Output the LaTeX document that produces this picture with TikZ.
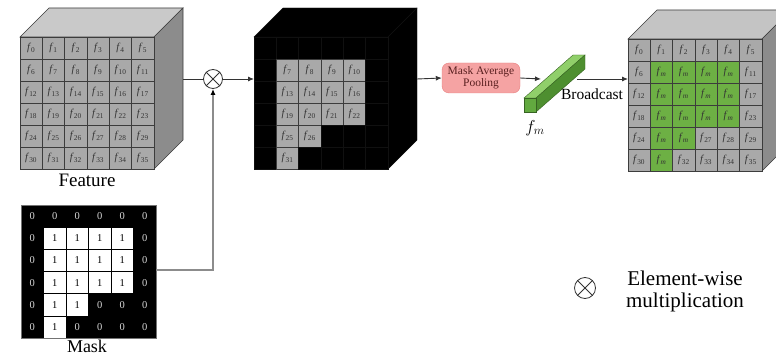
\documentclass[tikz,border=0pt]{standalone}
\usepackage{fontspec}
\setmainfont{Liberation Serif}
\newfontfamily\tms{Liberation Serif}
\usetikzlibrary{arrows.meta}
\definecolor{topg}{HTML}{C9C9C9}
\definecolor{sideg}{HTML}{8C8C8C}
\definecolor{cellg}{HTML}{A9A9A9}
\definecolor{edgeg}{HTML}{3C3C3C}
\definecolor{cellgreen}{HTML}{6DB044}
\definecolor{bartop}{HTML}{90CF6A}
\definecolor{barside}{HTML}{4E8F30}
\definecolor{barfront}{HTML}{62A93F}
\definecolor{poolfill}{HTML}{F5A3A3}
\definecolor{pooldraw}{HTML}{E88080}
\definecolor{pooltext}{HTML}{5A2020}
\definecolor{blkgrid}{HTML}{101010}
\newcommand\fl[1]{\textit{f}\textsubscript{#1}}
\tikzset{
  fcell/.style={draw=edgeg, line width=0.8pt, fill=cellg, minimum width=22.33pt,
    minimum height=22pt, inner sep=0pt, font=\tms\fontsize{10.5}{10.5}\selectfont, text=black!80},
  gcell/.style={fcell, fill=cellgreen},
  bcell/.style={draw=blkgrid, line width=0.4pt, fill=black, minimum width=22.33pt,
    minimum height=22pt, inner sep=0pt},
  mzero/.style={fill=black, draw=black, text=white!85!black, minimum width=22.5pt,
    minimum height=22.2pt, inner sep=0pt, font=\tms\fontsize{10.5}{10.5}\selectfont},
  mone/.style={mzero, fill=white, text=black},
  face/.style={draw=edgeg, line width=0.6pt},
  ln/.style={draw=black!80, line width=0.9pt},
  arr/.style={ln, -{Latex[length=6pt,width=5pt]}},
  lbl/.style={font=\tms\fontsize{19}{22}\selectfont, inner sep=0pt},
}
\begin{document}
\begin{tikzpicture}[x=1pt,y=-1pt]
\useasboundingbox (0,0) rectangle (776,358);
\begin{scope}
\clip (0,0) rectangle (776,358);
% ---------- Feature cube ----------
\filldraw[face, fill=topg] (20,37) -- (49,8) -- (183,8) -- (154,37) -- cycle;
\filldraw[face, fill=sideg] (154,37) -- (183,8) -- (183,140) -- (154,169) -- cycle;
\foreach \r in {0,...,5}{
  \foreach \c in {0,...,5}{
    \pgfmathtruncatemacro\n{6*\r+\c}
    \node[fcell] (fa-\r-\c) at ({20+22.33*\c+11.17},{37+22*\r+11}) {\fl{\n}};
  }
}
\draw[face] (20,37) rectangle (154,169);
\node[lbl] (featlbl) at (87,180) {Feature};

% ---------- Masked cube ----------
\filldraw[draw=blkgrid, fill=black] (254,37) -- (283,8) -- (417,8) -- (388,37) -- cycle;
\filldraw[draw=blkgrid, fill=black] (388,37) -- (417,8) -- (417,140) -- (388,169) -- cycle;
\foreach \r in {0,...,5}{
  \foreach \c in {0,...,5}{
    \pgfmathtruncatemacro\n{6*\r+\c}
    \pgfmathtruncatemacro\m{(\r>=1)*(\r<=3)*(\c>=1)*(\c<=4)+(\r==4)*(\c>=1)*(\c<=2)+(\r==5)*(\c==1)}
    \ifnum\m=1
      \node[fcell] (mc-\r-\c) at ({254+22.33*\c+11.17},{37+22*\r+11}) {\fl{\n}};
    \else
      \node[bcell] (mc-\r-\c) at ({254+22.33*\c+11.17},{37+22*\r+11}) {};
    \fi
  }
}

% ---------- Output cube ----------
\filldraw[face, fill=topg!110!white] (628,39) -- (657,10) -- (791,10) -- (762,39) -- cycle;
\filldraw[face, fill=sideg] (762,39) -- (791,10) -- (791,142) -- (762,171) -- cycle;
\foreach \r in {0,...,5}{
  \foreach \c in {0,...,5}{
    \pgfmathtruncatemacro\n{6*\r+\c}
    \pgfmathtruncatemacro\m{(\r>=1)*(\r<=3)*(\c>=1)*(\c<=4)+(\r==4)*(\c>=1)*(\c<=2)+(\r==5)*(\c==1)}
    \ifnum\m=1
      \node[gcell] (oc-\r-\c) at ({628+22.33*\c+11.17},{39+22*\r+11}) {\textit{f}\textsubscript{\textit{m}}};
    \else
      \node[fcell] (oc-\r-\c) at ({628+22.33*\c+11.17},{39+22*\r+11}) {\fl{\n}};
    \fi
  }
}
\draw[face] (628,39) rectangle (762,171);
\end{scope}

% ---------- Mask ----------
\fill[black] (21,205) rectangle (156,338);
\foreach \r in {0,...,5}{
  \foreach \c in {0,...,5}{
    \pgfmathtruncatemacro\m{(\r>=1)*(\r<=3)*(\c>=1)*(\c<=4)+(\r==4)*(\c>=1)*(\c<=2)+(\r==5)*(\c==1)}
    \ifnum\m=1
      \node[mone] (mk-\r-\c) at ({21+22.5*\c+11.25},{205+22.17*\r+11.08}) {1};
    \else
      \node[mzero] (mk-\r-\c) at ({21+22.5*\c+11.25},{205+22.17*\r+11.08}) {0};
    \fi
  }
}
\draw[black!55, line width=0.7pt] (21,205) rectangle (156,338);
\node[lbl, font=\tms\fontsize{18}{20}\selectfont] (masklbl) at (87,346.5) {Mask};

% ---------- Operator ----------
\node[circle, draw=black!80, line width=0.8pt, minimum size=19pt, inner sep=0pt] (ot) at (213,79) {};
\draw[black!80, line width=0.8pt] (ot.45) -- (ot.225) (ot.135) -- (ot.315);

% ---------- Pooling ----------
\node[draw=pooldraw, fill=poolfill, rounded corners=7pt, minimum width=78pt, minimum height=30pt,
  inner sep=1pt, align=center, text=pooltext, font=\tms\fontsize{11.5}{12}\selectfont] (pool) at (481,78)
  {Mask Average\\Pooling};

% ---------- Green bar ----------
\filldraw[draw=barside!70!black, line width=0.4pt, fill=bartop] (524,98) -- (536,98) -- (585,55) -- (573,55) -- cycle;
\filldraw[draw=barside!70!black, line width=0.4pt, fill=barside] (536,98) -- (536,112) -- (585,69) -- (585,55) -- cycle;
\filldraw[draw=barside!70!black, line width=0.4pt, fill=barfront] (524,98) rectangle (536,112);
\node[inner sep=0pt, font=\fontsize{17}{17}\selectfont] (fm) at (535,128) {$f_m$};
\coordinate (barin) at (541,79);
\coordinate (barout) at (577,79);
\node[inner sep=0pt, font=\tms\fontsize{15.5}{15.5}\selectfont] (bc) at (592,94) {Broadcast};

% ---------- Connectors ----------
\coordinate (featout) at (183,79);
\coordinate (mcin) at (254,79);
\coordinate (mcout) at (417,79);
\coordinate (ocin) at (628,79);
\coordinate (mkout) at (156,270);
\draw[ln] (featout) -- (ot.west);
\draw[arr] (ot.east) -- (mcin);
\draw[arr] (mcout) -- (pool.west);
\draw[arr] (pool.east) -- (barin);
\draw[arr] (barout) -- (ocin);
\draw[draw=black!45, line width=1.2pt, -{Latex[length=6pt,width=5pt,color=black]}] (mkout) -| (ot.south);

% ---------- Legend ----------
\node[circle, draw=black!80, line width=0.8pt, minimum size=21pt, inner sep=0pt] (lot) at (585,288) {};
\draw[black!80, line width=0.8pt] (lot.45) -- (lot.225) (lot.135) -- (lot.315);
\node[align=center, inner sep=0pt, font=\tms\fontsize{21}{22}\selectfont] (legtxt) at (685,291)
  {Element-wise\\multiplication};
\end{tikzpicture}
\end{document}
